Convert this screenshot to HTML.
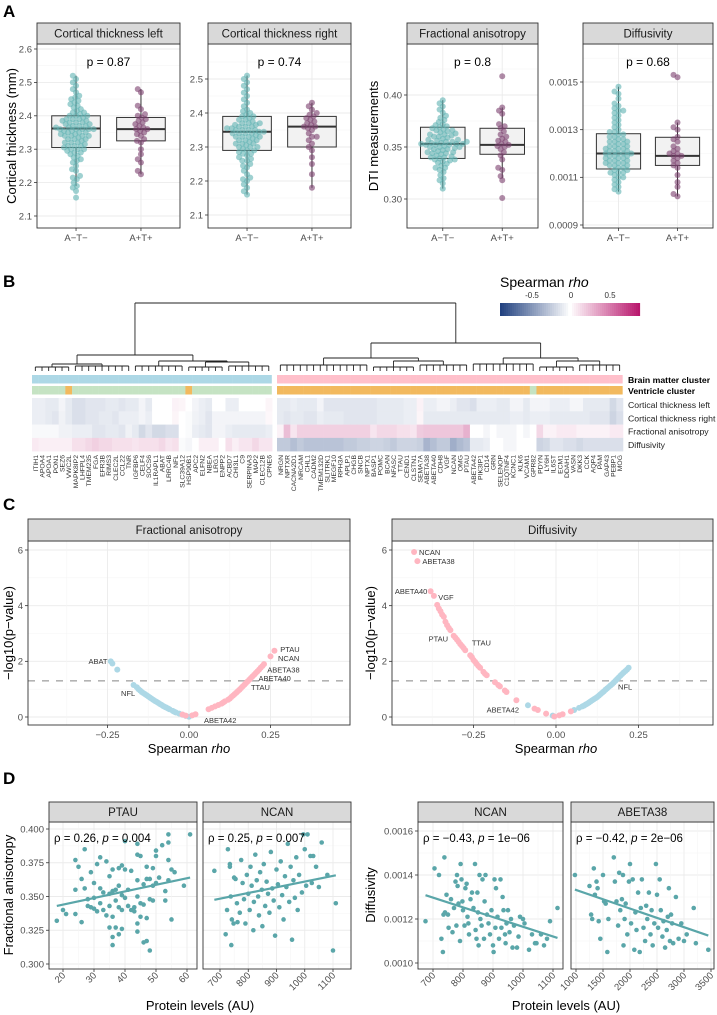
<!DOCTYPE html>
<html><head><meta charset="utf-8"><style>
html,body{margin:0;padding:0;background:#fff;}
svg{display:block;font-family:"Liberation Sans",Arial,sans-serif;}
.tk{font-size:9.5px;fill:#4d4d4d;}
.st{font-size:11.5px;fill:#1a1a1a;}
.at{font-size:13px;fill:#000;}
.pl{font-size:17px;font-weight:bold;fill:#000;}
</style></head><body>
<svg id="fig" width="717" height="1015" viewBox="0 0 717 1015">
<text class="pl" x="3" y="17">A</text>
<text class="pl" x="3" y="287">B</text>
<text class="pl" x="3" y="510">C</text>
<text class="pl" x="3" y="784">D</text>
<text class="at" transform="translate(16,136) rotate(-90)" text-anchor="middle">Cortical thickness (mm)</text>
<text class="at" transform="translate(378,136) rotate(-90)" text-anchor="middle">DTI measurements</text>
<text x="500" y="287" style="font-size:14px">Spearman <tspan font-style="italic">rho</tspan></text>
<text class="at" transform="translate(13,633) rotate(-90)" text-anchor="middle">−log10(p−value)</text>
<text class="at" transform="translate(375,633) rotate(-90)" text-anchor="middle">−log10(p−value)</text>
<text class="at" x="189" y="753" text-anchor="middle">Spearman <tspan font-style="italic">rho</tspan></text>
<text class="at" x="556" y="753" text-anchor="middle">Spearman <tspan font-style="italic">rho</tspan></text>
<text class="at" transform="translate(13,895) rotate(-90)" text-anchor="middle">Fractional anisotropy</text>
<text class="at" transform="translate(375,895) rotate(-90)" text-anchor="middle">Diffusivity</text>
<text class="at" x="200" y="1010" text-anchor="middle">Protein levels (AU)</text>
<text class="at" x="566" y="1010" text-anchor="middle">Protein levels (AU)</text>
</svg>
<script>
// ---------- Panel A data ----------
const aGroups = ["A−T−","A+T+"];
const ctlNeg = [2.155,2.175,2.185,2.19,2.2,2.21,2.215,2.22,2.235,2.24,2.25,2.26,2.265,2.27,2.275,2.28,2.285,2.29,2.29,2.295,2.3,2.3,2.305,2.31,2.31,2.315,2.32,2.32,2.325,2.33,2.33,2.335,2.34,2.34,2.345,2.345,2.35,2.35,2.355,2.355,2.36,2.36,2.36,2.365,2.365,2.37,2.37,2.375,2.375,2.38,2.38,2.385,2.385,2.39,2.39,2.395,2.4,2.4,2.405,2.41,2.41,2.415,2.42,2.425,2.43,2.435,2.44,2.445,2.45,2.455,2.46,2.47,2.48,2.49,2.5,2.51,2.52,2.3,2.32,2.34,2.36,2.38,2.4,2.33,2.35,2.37,2.31,2.39,2.36,2.34];
const ctlPos = [2.225,2.235,2.26,2.27,2.285,2.3,2.32,2.325,2.33,2.34,2.345,2.35,2.355,2.36,2.36,2.365,2.37,2.375,2.38,2.385,2.39,2.395,2.4,2.405,2.42,2.43,2.47,2.48];
const ctrNeg = [2.16,2.17,2.18,2.19,2.2,2.205,2.21,2.22,2.23,2.24,2.245,2.25,2.26,2.265,2.27,2.275,2.28,2.285,2.29,2.29,2.295,2.3,2.3,2.305,2.31,2.31,2.315,2.32,2.32,2.325,2.33,2.33,2.335,2.34,2.34,2.345,2.345,2.35,2.35,2.355,2.355,2.36,2.36,2.365,2.365,2.37,2.37,2.375,2.38,2.38,2.385,2.39,2.39,2.395,2.4,2.405,2.41,2.42,2.43,2.44,2.45,2.46,2.47,2.48,2.49,2.5,2.51,2.3,2.32,2.34,2.36,2.33,2.35,2.31,2.37,2.28,2.26,2.34,2.35,2.33];
const ctrPos = [2.18,2.22,2.25,2.27,2.29,2.3,2.31,2.32,2.33,2.34,2.35,2.355,2.36,2.365,2.37,2.375,2.38,2.385,2.39,2.395,2.4,2.41,2.42,2.43,2.36,2.33];
const faNeg = [0.31,0.315,0.318,0.32,0.323,0.326,0.328,0.33,0.332,0.334,0.335,0.336,0.337,0.338,0.339,0.34,0.341,0.342,0.343,0.344,0.345,0.346,0.347,0.348,0.349,0.35,0.35,0.351,0.352,0.352,0.353,0.353,0.354,0.354,0.355,0.355,0.356,0.357,0.358,0.359,0.36,0.361,0.362,0.363,0.364,0.365,0.366,0.367,0.368,0.369,0.37,0.372,0.374,0.376,0.378,0.38,0.383,0.386,0.389,0.392,0.395,0.345,0.35,0.355,0.36,0.34,0.348,0.357,0.362,0.352,0.344,0.338,0.366,0.371,0.33,0.353];
const faPos = [0.301,0.318,0.322,0.328,0.33,0.338,0.342,0.345,0.348,0.35,0.351,0.352,0.353,0.355,0.356,0.358,0.36,0.362,0.365,0.368,0.37,0.372,0.382,0.385,0.388,0.418];
const dfNeg = [0.00104,0.00105,0.00106,0.00107,0.00108,0.00109,0.0011,0.00111,0.00112,0.00112,0.00113,0.00113,0.00114,0.00114,0.00115,0.00115,0.00116,0.00116,0.00117,0.00117,0.00118,0.00118,0.00119,0.00119,0.0012,0.0012,0.0012,0.00121,0.00121,0.00122,0.00122,0.00123,0.00123,0.00124,0.00124,0.00125,0.00125,0.00126,0.00126,0.00127,0.00127,0.00128,0.00128,0.00129,0.0013,0.00131,0.00132,0.00133,0.00134,0.00135,0.00136,0.00137,0.00138,0.00139,0.0014,0.00141,0.00143,0.00145,0.00146,0.00148,0.00116,0.00118,0.0012,0.00122,0.00119,0.00121,0.00117,0.00115,0.00123,0.00125,0.0011,0.00112,0.00138,0.00129];
const dfPos = [0.00102,0.00103,0.00106,0.00108,0.00111,0.00114,0.00115,0.00116,0.00117,0.00118,0.00119,0.00119,0.0012,0.0012,0.00121,0.00122,0.00123,0.00125,0.00126,0.00127,0.0013,0.00131,0.00133,0.00152,0.00153];
// box stats [lowWhisker, q1, median, q3, highWhisker]
const ctlBoxNeg = [2.19,2.305,2.362,2.40,2.52], ctlBoxPos = [2.225,2.325,2.36,2.395,2.48];
const ctrBoxNeg = [2.16,2.29,2.345,2.39,2.51], ctrBoxPos = [2.18,2.30,2.36,2.39,2.43];
const faBoxNeg = [0.31,0.339,0.353,0.369,0.395], faBoxPos = [0.32,0.343,0.352,0.368,0.388];
const dfBoxNeg = [0.00104,0.001135,0.0012,0.001283,0.00148], dfBoxPos = [0.00102,0.00115,0.00119,0.001268,0.00133];
const aPvals = ["p = 0.87","p = 0.74","p = 0.8","p = 0.68"];

// ---------- Panel B data ----------
const leftGenes = ["ITIH1","APOA4","APOA1","PON1","SEZ6","VWC2L","MAPK8IP2","LHFPL4","TMEM235","FGA","EFR3B","RIMS3","CLEC2L","CCL22","TNR","IGFBP6","CELF4","SOCS6","IL1RAPL1","ABAT","LRRC4B","NFL","SLC39A12","HSP90B1","APC2","ELFN2","NBEA","LRG1","ENPP2","ACBD7","CHI3L1","C9","SERPINA3","MAP2","CLEC12B","CPNE6"];
const rightGenes = ["NRGN","NPTXR","CACNA2D1","NRCAM","CHL1","CADM2","TMEM132D","SLITRK1","MEGF10","RPH3A","APLP1","CHGB","SNCB","NPTX1","BASP1","POMC","BCAN","NFASC","TTAU","CEND1","CLSTN1","SEMA7A","ABETA38","ABETA40","CDH8","VGF","NCAN","OMG","PTAU","ABETA42","PIK3IP1","CD14","GRN","SELENOP","C1QTNF4","KCNC1","KLK6","VCAM1","GPR82","PDYN","LY6H","IL6ST","ECM1","DDAH1","VASN","DKK3","CCK","AQP4","PAM","GAP43","PEBP1","MOG"];
const rowNames = ["Cortical thickness left","Cortical thickness right","Fractional anisotropy","Diffusivity"];
const ventricleOrangeLeft = ["VWC2L","HSP90B1"];
const ventricleGreenRight = ["GPR82"];
const hmCtlLeft = [-0.08,-0.08,-0.1,-0.1,-0.05,-0.1,-0.15,-0.15,-0.12,-0.12,-0.12,-0.1,-0.1,-0.12,-0.1,-0.1,-0.05,-0.1,0,0,0,0.05,0.04,0,-0.05,-0.08,-0.1,0,0,-0.08,-0.08,0,0,0,0,0.04];
const hmCtrLeft = [-0.08,-0.08,-0.1,-0.12,-0.06,-0.1,-0.15,-0.15,-0.12,-0.12,-0.1,-0.1,-0.12,-0.08,-0.08,-0.08,-0.05,-0.08,0,0,0,0.04,0,-0.02,-0.06,-0.08,-0.12,-0.05,-0.05,-0.05,-0.05,-0.05,-0.05,-0.05,-0.05,0.03];
const hmFaLeft = [-0.03,-0.03,-0.03,-0.03,-0.06,-0.06,-0.08,-0.08,-0.08,-0.12,-0.12,-0.1,-0.1,-0.12,-0.06,-0.1,-0.18,-0.12,-0.18,-0.18,-0.15,-0.15,0,-0.02,-0.08,-0.1,-0.12,-0.05,-0.05,-0.08,-0.1,-0.1,-0.1,-0.1,-0.1,-0.08];
const hmDfLeft = [0.08,0.06,0.06,0.06,0.06,0.06,0.12,0.12,0.15,0.18,0.15,0.15,0.12,0.12,0.12,0.1,0.12,0.12,0.12,0.15,0.1,0.12,-0.02,-0.04,0,0.06,0.06,0.06,0,0.12,0.06,0.1,0.1,0.15,0.1,0.1];
const hmCtlRight = [-0.1,-0.1,-0.08,-0.1,-0.1,-0.1,-0.05,-0.12,-0.12,-0.12,-0.12,-0.12,-0.12,-0.12,-0.12,-0.1,-0.1,-0.1,-0.1,-0.08,-0.08,0.05,-0.08,-0.08,-0.05,-0.05,-0.08,-0.12,-0.12,-0.15,-0.08,-0.08,-0.08,-0.1,-0.1,-0.05,-0.05,-0.1,-0.05,-0.05,-0.05,-0.08,-0.08,-0.08,-0.04,-0.04,-0.1,-0.1,-0.1,-0.1,-0.18,-0.12];
const hmCtrRight = [-0.1,-0.12,-0.1,-0.1,-0.12,-0.12,-0.08,-0.1,-0.1,-0.1,-0.12,-0.12,-0.12,-0.12,-0.12,-0.1,-0.1,-0.1,-0.1,-0.08,-0.08,0.04,-0.1,-0.1,-0.1,-0.1,-0.1,-0.1,-0.1,-0.1,-0.1,-0.1,-0.1,-0.1,-0.1,-0.08,-0.08,-0.1,-0.08,-0.08,-0.08,-0.1,-0.1,-0.1,-0.1,-0.1,-0.1,-0.12,-0.12,-0.12,-0.2,-0.15];
const hmFaRight = [0.05,0.25,0.1,0.18,0.18,0.18,0.18,0.18,0.18,0.18,0.18,0.18,0.18,0.18,0.1,0.15,0.15,0.15,0.12,0.12,0.1,0.2,0.22,0.22,0.22,0.22,0.22,0.22,0.3,0,0,-0.04,0,-0.04,-0.04,-0.04,0,-0.04,0,0.15,0.05,0.05,0.08,0.08,0.08,0.05,0.05,0.05,0.05,0.05,0.08,0.08];
const hmDfRight = [-0.25,-0.25,-0.3,-0.25,-0.28,-0.28,-0.28,-0.28,-0.28,-0.28,-0.25,-0.25,-0.22,-0.22,-0.2,-0.2,-0.22,-0.25,-0.2,-0.2,-0.2,-0.22,-0.35,-0.3,-0.25,-0.25,-0.38,-0.32,-0.28,-0.1,-0.1,-0.08,0,0,-0.04,-0.04,0,0,0,-0.2,-0.18,-0.12,-0.12,-0.15,-0.15,-0.18,-0.15,-0.15,-0.15,-0.15,-0.15,-0.15];
// dendrogram nodes: [firstLeaf, lastLeaf, heightY]
const dendroNodes = [[0,87,303],[0,35,355],[36,87,343],[0,14,364],[15,35,361],[0,5,367],[6,14,366],[15,22,366],[23,35,362],[23,28,367],[29,35,366],[36,64,358],[65,87,358],[36,49,365],[50,64,361],[50,56,367],[57,64,365],[65,74,364],[75,87,361],[75,80,367],[81,87,365]];
const cbTicks = [-0.5,0,0.5];

// ---------- Panel C data ----------
const faBluePts = [[-0.24,2.0],[-0.235,1.92],[-0.22,1.7],[-0.17,1.15],[-0.16,1.07],[-0.155,1.0],[-0.15,0.95],[-0.145,0.9],[-0.14,0.86],[-0.135,0.82],[-0.13,0.78],[-0.125,0.74],[-0.12,0.7],[-0.115,0.66],[-0.11,0.62],[-0.105,0.58],[-0.1,0.55],[-0.095,0.51],[-0.09,0.47],[-0.085,0.44],[-0.08,0.4],[-0.075,0.37],[-0.07,0.34],[-0.065,0.31],[-0.06,0.28],[-0.05,0.22],[-0.045,0.19],[-0.04,0.16],[-0.03,0.12],[-0.02,0.08],[-0.01,0.04],[0,0.01]];
const faPinkPts = [[-0.02,0.09],[-0.01,0.05],[0.01,0.06],[0.02,0.1],[0.06,0.28],[0.07,0.33],[0.08,0.38],[0.09,0.43],[0.1,0.48],[0.105,0.52],[0.11,0.56],[0.12,0.62],[0.125,0.66],[0.13,0.72],[0.135,0.77],[0.14,0.82],[0.145,0.87],[0.15,0.93],[0.155,0.98],[0.16,1.04],[0.165,1.1],[0.17,1.16],[0.175,1.22],[0.18,1.28],[0.185,1.34],[0.19,1.4],[0.195,1.46],[0.2,1.52],[0.205,1.58],[0.21,1.64],[0.215,1.7],[0.22,1.77],[0.225,1.83],[0.23,1.9],[0.25,2.18],[0.262,2.38]];
const faLabels = ["ABAT","NFL","ABETA42","PTAU","NCAN","ABETA38","ABETA40","TTAU"];
const faLabelPos = [[-0.25,2.02,"end"],[-0.165,0.86,"end"],[0.046,-0.1,"start"],[0.28,2.45,"start"],[0.273,2.12,"start"],[0.24,1.7,"start"],[0.213,1.4,"start"],[0.19,1.08,"start"]];
const dfPinkPts = [[-0.43,5.93],[-0.42,5.6],[-0.38,4.52],[-0.37,4.35],[-0.36,4.03],[-0.355,3.9],[-0.35,3.8],[-0.345,3.68],[-0.34,3.6],[-0.335,3.42],[-0.33,3.3],[-0.325,3.2],[-0.32,3.12],[-0.31,2.92],[-0.305,2.85],[-0.3,2.78],[-0.295,2.7],[-0.29,2.62],[-0.285,2.55],[-0.28,2.48],[-0.275,2.4],[-0.26,2.22],[-0.255,2.15],[-0.25,2.05],[-0.245,1.98],[-0.24,1.9],[-0.235,1.83],[-0.23,1.77],[-0.22,1.62],[-0.215,1.55],[-0.21,1.5],[-0.185,1.25],[-0.175,1.15],[-0.17,1.1],[-0.155,0.95],[-0.15,0.9],[-0.12,0.6],[-0.065,0.3],[-0.055,0.25],[-0.03,0.12],[-0.005,0.02],[0.01,0.06],[0.02,0.1],[0.045,0.2]];
const dfBluePts = [[-0.085,0.42],[-0.01,0.05],[0.055,0.25],[0.07,0.33],[0.08,0.38],[0.085,0.41],[0.09,0.45],[0.095,0.48],[0.1,0.52],[0.105,0.56],[0.11,0.6],[0.115,0.64],[0.12,0.68],[0.125,0.72],[0.13,0.77],[0.135,0.82],[0.14,0.87],[0.145,0.92],[0.15,0.98],[0.155,1.03],[0.16,1.08],[0.165,1.13],[0.17,1.18],[0.175,1.24],[0.18,1.3],[0.185,1.36],[0.19,1.42],[0.195,1.48],[0.2,1.54],[0.205,1.6],[0.21,1.65],[0.215,1.7],[0.22,1.77]];
const dfLabels = ["NCAN","ABETA38","ABETA40","VGF","PTAU","TTAU","ABETA42","NFL"];
const dfLabelPos = [[-0.415,5.93,"start"],[-0.405,5.6,"start"],[-0.39,4.52,"end"],[-0.357,4.32,"start"],[-0.327,2.82,"end"],[-0.255,2.67,"start"],[-0.112,0.27,"end"],[0.188,1.1,"start"]];
const cXTicks = [-0.25,0,0.25], cXTickLabels = ["−0.25","0.00","0.25"];
const cYTicks = [0,2,4,6];

// ---------- Panel D data ----------
const ptauX = [18,20,21,24,24,24,25,26,26,27,27,28,28,29,29,30,30,30,31,31,32,32,32,33,33,34,34,35,35,35,35,36,36,36,36,36,37,37,37,38,38,38,38,39,39,39,39,40,40,40,41,41,42,42,43,43,44,44,44,44,44,44,45,45,45,46,46,46,47,47,47,47,48,48,48,49,49,49,50,50,50,51,52,53,53,54,54,54,54,55,55,56,59,61];
const ptauY = [.332,.340,.337,.377,.355,.337,.372,.331,.363,.385,.356,.348,.343,.368,.342,.360,.349,.341,.374,.339,.379,.356,.345,.353,.340,.376,.336,.365,.352,.343,.327,.370,.354,.335,.320,.314,.355,.347,.327,.371,.358,.342,.322,.373,.351,.340,.326,.391,.370,.349,.355,.343,.369,.340,.342,.339,.389,.381,.362,.350,.330,.324,.380,.345,.335,.359,.344,.316,.372,.363,.334,.317,.363,.348,.310,.371,.358,.347,.384,.380,.360,.364,.388,.354,.347,.396,.390,.377,.362,.370,.333,.368,.358,.396];
const ncanFaX = [680,720,725,728,735,735,738,740,742,748,750,755,760,762,770,775,780,785,790,795,800,805,808,812,818,820,825,830,835,838,842,848,850,855,860,865,870,875,880,885,890,895,900,905,910,915,920,925,930,935,940,945,950,955,960,965,970,975,980,990,995,1000,1005,1010,1020,1025,1030,1040,1050,1060,1080,1100,1110];
const ncanFaY = [.369,.322,.340,.385,.374,.372,.350,.314,.333,.330,.364,.363,.345,.331,.338,.377,.360,.348,.330,.366,.352,.340,.372,.358,.325,.346,.381,.362,.350,.336,.368,.355,.328,.374,.343,.361,.352,.338,.383,.356,.347,.321,.370,.359,.342,.376,.351,.333,.365,.357,.389,.346,.372,.318,.362,.349,.379,.340,.366,.353,.396,.385,.358,.396,.380,.360,.380,.372,.357,.390,.366,.310,.345];
const ncanDfX = [675,705,720,728,733,735,738,740,745,750,752,760,765,770,775,778,780,782,785,790,792,795,798,800,805,808,812,815,818,820,825,830,835,840,842,845,848,850,852,855,858,862,865,870,872,875,880,885,890,895,900,902,905,908,910,915,920,925,928,932,935,940,942,945,950,955,960,965,970,980,985,990,1000,1005,1020,1030,1040,1045,1060,1070,1080,1090,1115];
const ncanDfY = [.00119,.00143,.00140,.00111,.00105,.00122,.00148,.00123,.00131,.00122,.00116,.00129,.00114,.00125,.00137,.00117,.00140,.00135,.00127,.00110,.00145,.00138,.00128,.00124,.00117,.00134,.00136,.00121,.00118,.00113,.00129,.00132,.00125,.00145,.00115,.00111,.00132,.00123,.00108,.00140,.00120,.00117,.00138,.00111,.00128,.00140,.00122,.00118,.00113,.00124,.00108,.00105,.00138,.00116,.00134,.00121,.00111,.00138,.00116,.00130,.00124,.00113,.00109,.00118,.00124,.00114,.00120,.00107,.00117,.00107,.00112,.00121,.00120,.00118,.00106,.00113,.00109,.00109,.00113,.00108,.00111,.00119,.00125];
const ab38X = [980,1250,1280,1300,1330,1350,1380,1400,1420,1450,1500,1520,1550,1580,1600,1700,1720,1750,1780,1800,1820,1850,1870,1880,1900,1920,1950,1980,2000,2020,2050,2080,2100,2120,2150,2180,2200,2220,2250,2280,2300,2320,2350,2380,2400,2420,2450,2480,2500,2520,2550,2570,2600,2620,2650,2680,2700,2720,2740,2760,2780,2800,2850,2900,2950,3000,3050,3180,3220,3450];
const ab38Y = [.00140,.00135,.00122,.00120,.00143,.00131,.00137,.00134,.00119,.00111,.00140,.00128,.00127,.00105,.00120,.00148,.00137,.00128,.00117,.00141,.00124,.00129,.00140,.00108,.00120,.00127,.00113,.00137,.00145,.00118,.00138,.00106,.00123,.00115,.00132,.00105,.00125,.00138,.00116,.00110,.00126,.00120,.00132,.00113,.00124,.00108,.00118,.00145,.00131,.00116,.00138,.00124,.00112,.00119,.00107,.00115,.00121,.00134,.00110,.00122,.00118,.00109,.00130,.00111,.00118,.00110,.00113,.00125,.00109,.00106];
const dStats = ["ρ = 0.26, ","0.004","ρ = 0.25, ","0.007","ρ = −0.43, ","1e−06","ρ = −0.42, ","2e−06"];

// ---------- helpers ----------
const NS = "http://www.w3.org/2000/svg";
const svg = document.getElementById("fig");
function mk(tag, attrs, parent){ const e=document.createElementNS(NS,tag); for(const k in attrs) e.setAttribute(k,attrs[k]); (parent||svg).appendChild(e); return e; }
function lin(d0,d1,r0,r1){ return v => r0+(v-d0)*(r1-r0)/(d1-d0); }
function hex(c){ return [parseInt(c.slice(1,3),16),parseInt(c.slice(3,5),16),parseInt(c.slice(5,7),16)]; }
function mix(a,b,t){ const A=hex(a),B=hex(b); return "rgb("+A.map((v,i)=>Math.round(v+(B[i]-v)*t)).join(",")+")"; }

function frame(x0,y0,x1,y1,name){
  const r = mk("rect",{x:x0,y:y0,width:x1-x0,height:y1-y0,fill:"none",stroke:"#333",'stroke-width':0.9});
  
  
}
function strip(x0,x1,y0,y1,label,name){
  const g = mk("g",{});
  
  
  mk("rect",{x:x0,y:y0,width:x1-x0,height:y1-y0,fill:"#d9d9d9",stroke:"#333",'stroke-width':0.9},g);
  const t = mk("text",{x:(x0+x1)/2,y:(y0+y1)/2+4,'text-anchor':"middle",class:"st"},g);
  t.textContent = label;
}
function hgrid(x0,x1,y,major){
  const l = mk("line",{x1:x0,x2:x1,y1:y,y2:y,stroke:major?"#ebebeb":"#f5f5f5",'stroke-width':major?0.9:0.6});
  
  
}
function vgrid(y0,y1,x,major){
  const l = mk("line",{x1:x,x2:x,y1:y0,y2:y1,stroke:major?"#ebebeb":"#f5f5f5",'stroke-width':major?0.9:0.6});
  
  
}
function ytick(x0,y,label){
  const l = mk("line",{x1:x0-3,x2:x0,y1:y,y2:y,stroke:"#333",'stroke-width':0.8});
  
  
  const t = mk("text",{x:x0-5,y:y+3.3,'text-anchor':"end",class:"tk"});
  
  
  t.textContent = label;
}
function xtick(x,y1,label,rot){
  const l = mk("line",{x1:x,x2:x,y1:y1,y2:y1+3,stroke:"#333",'stroke-width':0.8});
  
  
  let t;
  if(rot){ t = mk("text",{transform:"translate("+(x+3)+","+(y1+7)+") rotate(-45)",'text-anchor':"end",class:"tk"}); }
  else { t = mk("text",{x:x,y:y1+13,'text-anchor':"middle",class:"tk"}); }
  
  
  t.textContent = label;
}

// ---------- Panel A ----------
function beeswarm(vals, ys, cx, r){
  const sorted = vals.slice().sort((a,b)=>a-b);
  const placed = [];
  const out = [];
  const md = 2*r*0.72;
  for(const v of sorted){
    const y = ys(v);
    let off = 0;
    for(let k=0;k<200;k++){
      const o = (k%2===0?1:-1)*Math.ceil(k/2)*0.8;
      let ok = true;
      for(const p of placed){ const dy=p[1]-y, dx=p[0]-(cx+o); if(dx*dx+dy*dy < md*md){ ok=false; break; } }
      if(ok){ off=o; break; }
    }
    placed.push([cx+off,y]);
    out.push([cx+off,y]);
  }
  return out;
}
function panelA(x0,x1,ys,ticks,tickFmt,minors,title,pLabel,neg,pos,boxNeg,boxPos,key){
  const y0=44, y1=228;
  mk("rect",{x:x0,y:y0,width:x1-x0,height:y1-y0,fill:"#fff"});
  minors.forEach(v=>hgrid(x0,x1,ys(v),false));
  ticks.forEach(v=>hgrid(x0,x1,ys(v),true));
  const w = x1-x0;
  const cxs = [x0+w*0.273, x0+w*0.727];
  cxs.forEach(c=>vgrid(y0,y1,c,true));
  [[boxNeg,neg,"#5fb3b3",cxs[0]],[boxPos,pos,"#7b3f6e",cxs[1]]].forEach((g,gi)=>{
    const b=g[0], c=g[3], bw=w*0.34;
    const wl = mk("line",{x1:c,x2:c,y1:ys(b[0]),y2:ys(b[4]),stroke:"#333",'stroke-width':1});
    
    
    const bx = mk("rect",{x:c-bw/2,y:ys(b[3]),width:bw,height:ys(b[1])-ys(b[3]),fill:"#f2f2f2",stroke:"#333",'stroke-width':1});
    
    
    const md = mk("line",{x1:c-bw/2,x2:c+bw/2,y1:ys(b[2]),y2:ys(b[2]),stroke:"#333",'stroke-width':2});
    
    
    beeswarm(g[1],ys,c,3).forEach(p=>{
      const d = mk("circle",{cx:p[0],cy:p[1],r:3,fill:g[2],'fill-opacity':0.6});
      
      
    });
  });
  frame(x0,y0,x1,y1,key+'-panel');
  strip(x0,x1,23,44,title,key+'-strip');
  ticks.forEach(v=>ytick(x0,ys(v),tickFmt(v)));
  cxs.forEach((c,i)=>xtick(c,y1,aGroups[i],false));
  const pt = mk("text",{x:(x0+x1)/2,y:66,'text-anchor':"middle",style:"font-size:12px"});
  
  
  pt.textContent = pLabel;
}
panelA(37,180,lin(2.6,2.1,49,216),[2.1,2.2,2.3,2.4,2.5,2.6],v=>v.toFixed(1),[2.15,2.25,2.35,2.45,2.55],"Cortical thickness left",aPvals[0],ctlNeg,ctlPos,ctlBoxNeg,ctlBoxPos,"ct-left");
panelA(208,351,lin(2.5,2.1,79,215),[2.1,2.2,2.3,2.4,2.5],v=>v.toFixed(1),[2.15,2.25,2.35,2.45,2.55],"Cortical thickness right",aPvals[1],ctrNeg,ctrPos,ctrBoxNeg,ctrBoxPos,"ct-right");
panelA(407,538,lin(0.40,0.30,95,199),[0.30,0.35,0.40],v=>v.toFixed(2),[0.275,0.325,0.375,0.425],"Fractional anisotropy",aPvals[2],faNeg,faPos,faBoxNeg,faBoxPos,"fa");
panelA(583,713,lin(0.0015,0.0009,82,225),[0.0009,0.0011,0.0013,0.0015],v=>v.toFixed(4),[0.001,0.0012,0.0014,0.0016],"Diffusivity",aPvals[3],dfNeg,dfPos,dfBoxNeg,dfBoxPos,"diff");

// ---------- Panel B ----------
const NEG="#1f3f7e", POS="#b8146b";
function rhoColor(v){ const t=Math.min(1,Math.abs(v)/0.9); return v<0?mix("#ffffff",NEG,t):mix("#ffffff",POS,t); }
const colW = 6.67;
function colX(i){ return i<36 ? 32+i*colW : 277+(i-36)*6.653; }
const nCols = leftGenes.length+rightGenes.length;
const allGenes = leftGenes.concat(rightGenes);
for(let i=0;i<70;i++){
  const v = -0.9+i*(1.8/70)+0.0128;
  if(Math.abs(v)<0.03) continue;
  const r = mk("rect",{x:500+i*2,y:303,width:2.1,height:13,fill:rhoColor(v)});
  
  
}
const cbS = lin(-0.5,0.5,532,610);
cbTicks.forEach(v=>{
  const t = mk("text",{x:cbS(v),y:298,'text-anchor':"middle",style:"font-size:8px;fill:#333"});
  
  
  t.textContent = v===0?"0":(v<0?"-0.5":"0.5");
});
function annot(i,y,fill,name){
  const r = mk("rect",{x:colX(i),y:y,width:(i===35||i===87)?colW-0.3:colW+0.2,height:8.5,fill:fill});
  
  
}
for(let i=0;i<nCols;i++){
  const g = allGenes[i], left = i<36;
  annot(i,375,left?"#add8e6":"#ffc0cb",'brain-matter-cluster-cell');
  let orange = left ? ventricleOrangeLeft.includes(g) : !ventricleGreenRight.includes(g);
  annot(i,386,orange?"#f2b95e":"#c5e3c3",'ventricle-cluster-cell');
}
const hmRows = [hmCtlLeft.concat(hmCtlRight),hmCtrLeft.concat(hmCtrRight),hmFaLeft.concat(hmFaRight),hmDfLeft.concat(hmDfRight)];
hmRows.forEach((row,ri)=>{
  row.forEach((v,i)=>{
    const r = mk("rect",{x:colX(i),y:398+ri*13.3,width:colW+0.3,height:13.5,fill:rhoColor(v)});
    
    
  });
  const t = mk("text",{x:628,y:398+ri*13.3+10,style:"font-size:8.7px;fill:#222"});
  
  
  t.textContent = rowNames[ri];
});
const bl = mk("text",{x:628,y:383,style:"font-size:8.7px;font-weight:bold;fill:#000"});


bl.textContent = "Brain matter cluster";
const vl = mk("text",{x:628,y:394,style:"font-size:8.7px;font-weight:bold;fill:#000"});


vl.textContent = "Ventricle cluster";
allGenes.forEach((g,i)=>{
  const t = mk("text",{transform:"translate("+(colX(i)+colW/2+2.5)+",455) rotate(-90)",'text-anchor':"end",style:"font-size:6.8px;fill:#333"});
  
  
  t.textContent = g;
});
const leafTop = 371;
const nodeInfo = dendroNodes.map(n=>({lo:n[0],hi:n[1],y:n[2]}));
function center(i){ return colX(i)+colW/2; }
function nodeX(n){
  const kids = childrenOf(n);
  return (kids[0].x + kids[kids.length-1].x)/2;
}
function childrenOf(n){
  const subs = nodeInfo.filter(m=>m!==n && m.lo>=n.lo && m.hi<=n.hi && !nodeInfo.some(o=>o!==n && o!==m && o.lo>=n.lo && o.hi<=n.hi && o.lo<=m.lo && o.hi>=m.hi && (o.hi-o.lo)>(m.hi-m.lo)));
  const kids=[];
  for(let i=n.lo;i<=n.hi;i++){
    const s = subs.find(m=>m.lo===i);
    if(s){ kids.push({x:nodeX(s),y:s.y}); i=s.hi; }
    else kids.push({x:center(i),y:leafTop});
  }
  return kids;
}
nodeInfo.forEach(n=>{
  const kids = childrenOf(n);
  const h = mk("line",{x1:kids[0].x,x2:kids[kids.length-1].x,y1:n.y,y2:n.y,stroke:"#222",'stroke-width':0.9});
  
  
  kids.forEach(k=>{
    const v = mk("line",{x1:k.x,x2:k.x,y1:n.y,y2:k.y,stroke:"#222",'stroke-width':0.9});
    
    
  });
});

// ---------- Panel C ----------
function panelC(x0,x1,zeroX,pxPerUnit,title,blue,pink,labels,labelPos,key){
  const y0=541,y1=725;
  const xs = v=>zeroX+v*pxPerUnit, ys=lin(0,6,717,550);
  [1,3,5].forEach(v=>hgrid(x0,x1,ys(v),false));
  cYTicks.forEach(v=>hgrid(x0,x1,ys(v),true));
  [-0.375,-0.125,0.125,0.375].forEach(v=>vgrid(y0,y1,xs(v),false));
  cXTicks.forEach(v=>vgrid(y0,y1,xs(v),true));
  const dl = mk("line",{x1:x0,x2:x1,y1:ys(1.3),y2:ys(1.3),stroke:"#b3b3b3",'stroke-width':1.6,'stroke-dasharray':"7,7"});
  
  
  [[blue,"#add8e6"],[pink,"#ffb6c1"]].forEach(s=>{
    s[0].forEach(p=>{
      const c = mk("circle",{cx:xs(p[0]),cy:ys(p[1]),r:3,fill:s[1]});
      
      
    });
  });
  labels.forEach((l,i)=>{
    const p = labelPos[i];
    const t = mk("text",{x:xs(p[0]),y:ys(p[1])+3,'text-anchor':p[2],style:"font-size:7.5px;fill:#333"});
    
    
    t.textContent = l;
  });
  frame(x0,y0,x1,y1,key+'-panel');
  strip(x0,x1,519,541,title,key+'-strip');
  cYTicks.forEach(v=>ytick(x0,ys(v),String(v)));
  cXTicks.forEach((v,i)=>xtick(xs(v),y1,cXTickLabels[i],false));
}
panelC(28,350,189,326,"Fractional anisotropy",faBluePts,faPinkPts,faLabels,faLabelPos,"c-fa");
panelC(392,713,556,330,"Diffusivity",dfBluePts,dfPinkPts,dfLabels,dfLabelPos,"c-diff");

// ---------- Panel D ----------
function fit(xv,yv){
  const n=xv.length, mx=xv.reduce((a,b)=>a+b)/n, my=yv.reduce((a,b)=>a+b)/n;
  let sxy=0,sxx=0; for(let i=0;i<n;i++){ sxy+=(xv[i]-mx)*(yv[i]-my); sxx+=(xv[i]-mx)*(xv[i]-mx); }
  const b=sxy/sxx; return [my-b*mx,b];
}
function panelD(x0,x1,xs,ys,xTicks,xMinors,yTicks,yMinors,yFmt,showY,title,xv,yv,statA,statB,key){
  const y0=822,y1=969;
  yMinors.forEach(v=>hgrid(x0,x1,ys(v),false));
  yTicks.forEach(v=>hgrid(x0,x1,ys(v),true));
  xMinors.forEach(v=>vgrid(y0,y1,xs(v),false));
  xTicks.forEach(v=>vgrid(y0,y1,xs(v),true));
  xv.forEach((x,i)=>{
    const c = mk("circle",{cx:xs(x),cy:ys(yv[i]),r:2.3,fill:"#5aa6a9"});
    
    
  });
  const f = fit(xv,yv), xmin=Math.min(...xv), xmax=Math.max(...xv);
  const rl = mk("line",{x1:xs(xmin),x2:xs(xmax),y1:ys(f[0]+f[1]*xmin),y2:ys(f[0]+f[1]*xmax),stroke:"#5aa6a9",'stroke-width':2.2});
  
  
  frame(x0,y0,x1,y1,key+'-panel');
  strip(x0,x1,802,822,title,key+'-strip');
  const t = mk("text",{x:x0+5,y:842,style:"font-size:11.5px;fill:#000"});
  
  
  t.innerHTML = statA+'<tspan font-style="italic">p</tspan> = '+statB;
  if(showY) yTicks.forEach(v=>ytick(x0,ys(v),yFmt(v)));
  xTicks.forEach(v=>xtick(xs(v),y1,String(v),true));
}
const dFaY = lin(0.4,0.3,829,964), dDfY = lin(0.0016,0.0010,831,963);
panelD(49,197,lin(20,60,63,187),dFaY,[20,30,40,50,60],[25,35,45,55],[0.3,0.325,0.35,0.375,0.4],[0.3125,0.3375,0.3625,0.3875],v=>v.toFixed(3),true,"PTAU",ptauX,ptauY,dStats[0],dStats[1],"d-ptau");
panelD(203,351,lin(700,1100,220,333),dFaY,[700,800,900,1000,1100],[750,850,950,1050],[0.3,0.325,0.35,0.375,0.4],[0.3125,0.3375,0.3625,0.3875],v=>v.toFixed(3),false,"NCAN",ncanFaX,ncanFaY,dStats[2],dStats[3],"d-ncan-fa");
panelD(418,563,lin(700,1100,433,553),dDfY,[700,800,900,1000,1100],[750,850,950,1050],[0.001,0.0012,0.0014,0.0016],[0.0011,0.0013,0.0015],v=>v.toFixed(4),true,"NCAN",ncanDfX,ncanDfY,dStats[4],dStats[5],"d-ncan-diff");
panelD(571,714,lin(1000,3500,576,711),dDfY,[1000,1500,2000,2500,3000,3500],[1250,1750,2250,2750,3250],[0.001,0.0012,0.0014,0.0016],[0.0011,0.0013,0.0015],v=>v.toFixed(4),false,"ABETA38",ab38X,ab38Y,dStats[6],dStats[7],"d-abeta38");
</script>
</body></html>
